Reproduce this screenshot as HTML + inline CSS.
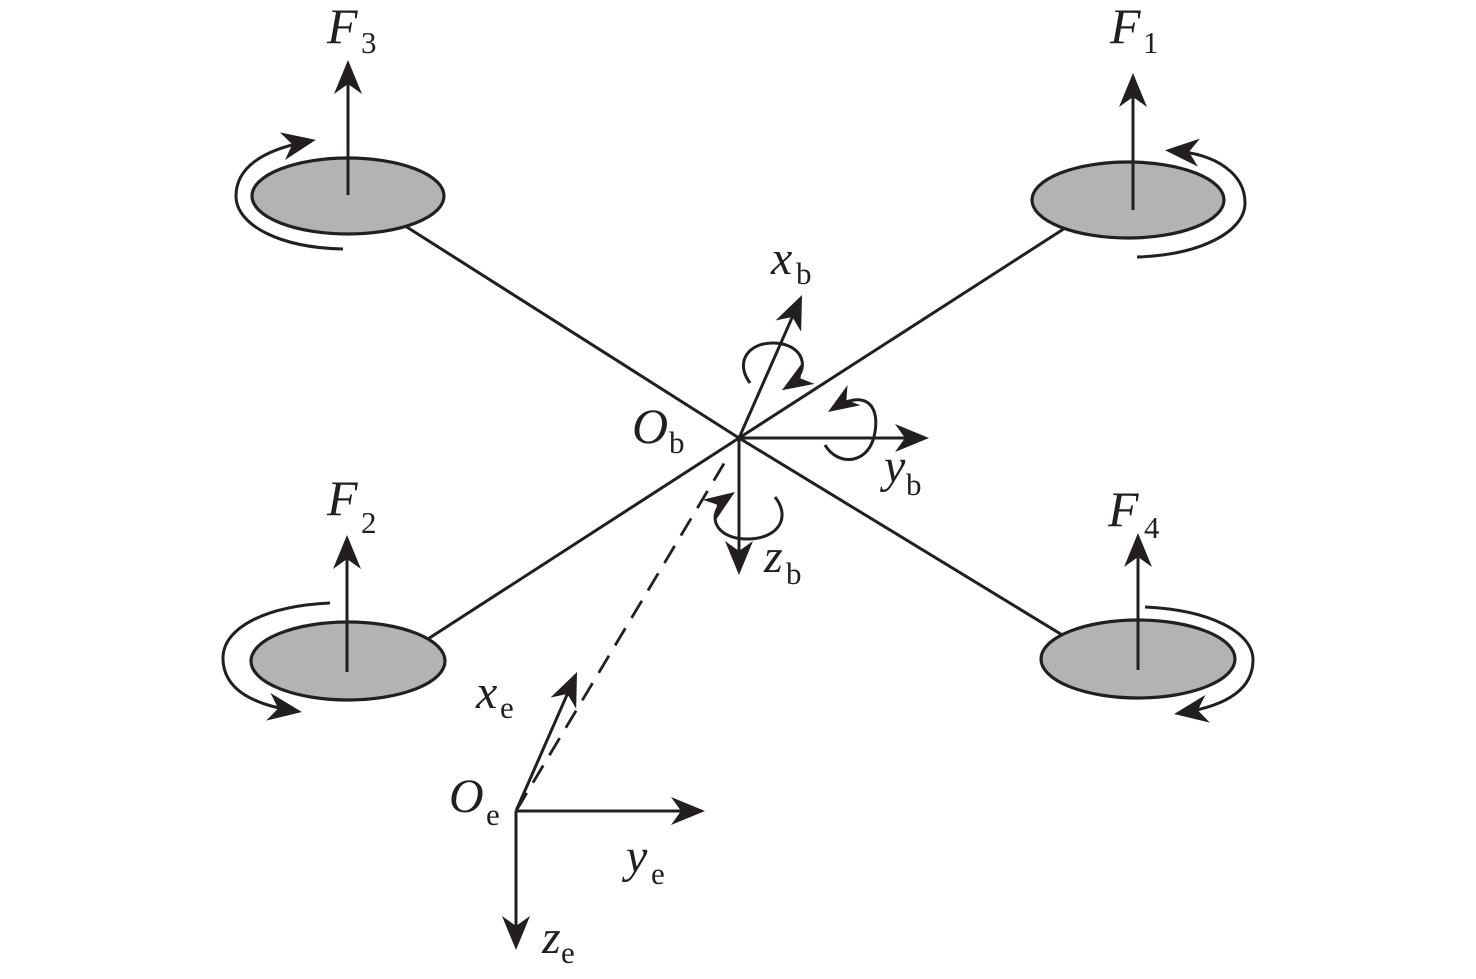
<!DOCTYPE html>
<html>
<head>
<meta charset="utf-8">
<style>
html,body{margin:0;padding:0;background:#fff;}
svg{display:block;}
text{font-family:"Liberation Serif",serif;fill:#231f20;}
.it{font-style:italic;}
</style>
</head>
<body>
<svg width="1476" height="979" viewBox="0 0 1476 979" xmlns="http://www.w3.org/2000/svg">
<defs>
<marker id="a" viewBox="-36 -16 38 32" refX="-8" refY="0" markerWidth="38" markerHeight="32" markerUnits="userSpaceOnUse" orient="auto">
<path d="M0,0 L-34,-14 L-24,0 L-34,14 Z" fill="#231f20"/>
</marker>
<marker id="b" viewBox="-34 -14 36 28" refX="-6" refY="0" markerWidth="36" markerHeight="28" markerUnits="userSpaceOnUse" orient="auto">
<path d="M0,0 L-31,-12 L-22,0 L-31,12 Z" fill="#231f20"/>
</marker>
</defs>
<rect width="1476" height="979" fill="#fff"/>

<g stroke="#231f20" fill="none" stroke-width="3">
<line x1="739" y1="438" x2="380" y2="210"/>
<line x1="739" y1="438" x2="1100" y2="658"/>
<line x1="739" y1="438" x2="1090" y2="212"/>
<line x1="739" y1="438" x2="400" y2="657"/>
</g>

<g stroke="#231f20" stroke-width="3.2" fill="#b3b3b3">
<ellipse cx="348" cy="196" rx="96" ry="38"/>
<ellipse cx="1128" cy="200" rx="96" ry="38"/>
<ellipse cx="348" cy="661" rx="97" ry="39"/>
<ellipse cx="1138" cy="659" rx="97" ry="39"/>
</g>

<g stroke="#231f20" fill="none" stroke-width="3">
<line x1="348" y1="195" x2="348" y2="68" marker-end="url(#a)"/>
<line x1="1133" y1="210" x2="1133" y2="81" marker-end="url(#a)"/>
<line x1="347" y1="672" x2="347" y2="543" marker-end="url(#a)"/>
<line x1="1138" y1="670" x2="1138" y2="541" marker-end="url(#a)"/>

<path d="M343,249 C280,248 236,225 236,196 C236,168 262,150 308,141.4" marker-end="url(#a)"/>
<path d="M1137,257 C1200,255 1245,232 1245,203 C1245,175 1218,154 1173,150.8" marker-end="url(#a)"/>
<path d="M330,603 C265,606 223,628 223,658 C223,688 250,704 294,710.8" marker-end="url(#a)"/>
<path d="M1145,607 C1210,610 1253,632 1253,660 C1253,690 1225,706 1182,712.8" marker-end="url(#a)"/>

<line x1="739" y1="438" x2="798.8" y2="302.3" marker-end="url(#a)"/>
<line x1="739" y1="438" x2="921" y2="438" marker-end="url(#a)"/>
<line x1="739" y1="438" x2="739" y2="567" marker-end="url(#a)"/>

<path d="M750,383 C735,363 747,343 773,343 C803,343 814,370 787,387" marker-end="url(#b)"/>
<path d="M825,445 C838,467 870,465 875,432 C880,402 862,390 833,408.7" marker-end="url(#b)"/>
<path d="M775,497 C791,517 779,539 747,539 C715,539 703,514 730,495.4" marker-end="url(#b)"/>

<line x1="724" y1="463.5" x2="516" y2="811" stroke-dasharray="20 12" stroke-width="2.8"/>

<line x1="516" y1="811" x2="573.8" y2="679.3" marker-end="url(#a)"/>
<line x1="516" y1="811" x2="697" y2="811" marker-end="url(#a)"/>
<line x1="516" y1="811" x2="516" y2="942" marker-end="url(#a)"/>
</g>

<text x="327" y="43" font-size="50" class="it">F</text><text x="361" y="53" font-size="31">3</text>
<text x="1110" y="43" font-size="50" class="it">F</text><text x="1143" y="53" font-size="31">1</text>
<text x="327" y="515" font-size="50" class="it">F</text><text x="361" y="533" font-size="31">2</text>
<text x="1108" y="526" font-size="50" class="it">F</text><text x="1144" y="538" font-size="31">4</text>

<text x="632" y="443" font-size="50" class="it">O</text><text x="669" y="453" font-size="31">b</text>
<text x="449" y="812" font-size="48" class="it">O</text><text x="486" y="825" font-size="31">e</text>

<text x="771" y="274" font-size="48" class="it">x</text><text x="796" y="284" font-size="31">b</text>
<text x="884" y="482" font-size="48" class="it">y</text><text x="906" y="495" font-size="31">b</text>
<text x="764" y="572" font-size="48" class="it">z</text><text x="786" y="584" font-size="31">b</text>

<text x="476" y="708" font-size="48" class="it">x</text><text x="500" y="718" font-size="31">e</text>
<text x="626" y="872" font-size="48" class="it">y</text><text x="651" y="884" font-size="31">e</text>
<text x="542" y="953" font-size="48" class="it">z</text><text x="561" y="963" font-size="31">e</text>
</svg>
</body>
</html>
